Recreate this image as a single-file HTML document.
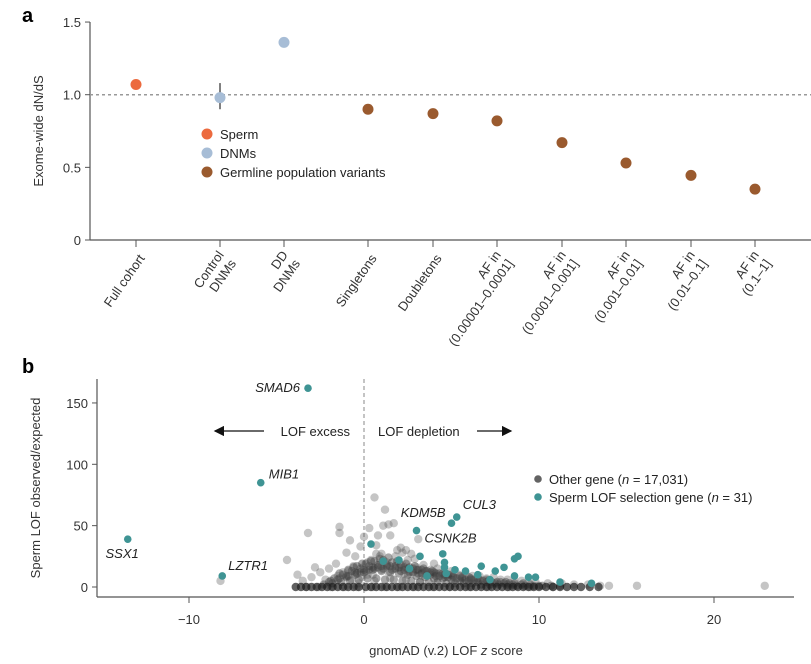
<!DOCTYPE html>
<html><head><meta charset="utf-8"><style>
body{margin:0;background:#fff;}
svg{display:block;font-family:"Liberation Sans",sans-serif;}
</style></head><body>
<svg id="chart" width="811" height="664" viewBox="0 0 811 664">
<text x="22" y="22" font-size="20" font-weight="bold">a</text>
<text x="22" y="373" font-size="20" font-weight="bold">b</text>
<g id="pa"></g>
<g id="pb"></g>
</svg>
<script>
const NS="http://www.w3.org/2000/svg";
function mk(p,t,a){const e=document.createElementNS(NS,t);for(const k in a)e.setAttribute(k,a[k]);p.appendChild(e);return e;}

// Panel a data
const aCats=["Full cohort","Control|DNMs","DD|DNMs","Singletons","Doubletons","AF in|(0.00001–0.0001]","AF in|(0.0001–0.001]","AF in|(0.001–0.01]","AF in|(0.01–0.1]","AF in|(0.1–1]"];
const aVals=[1.07,0.98,1.36,0.90,0.87,0.82,0.67,0.53,0.445,0.35];
const aGroup=["sperm","dnm","dnm","germ","germ","germ","germ","germ","germ","germ"];
const aTicks=[0,0.5,1.0,1.5];
const aTickLabels=["0","0.5","1.0","1.5"];
const aErrLo=[null,0.90,null,null,null,null,null,null,null,null];
const aErrHi=[null,1.08,null,null,null,null,null,null,null,null];
const aCatX=[136,220,284,368,433,497,562,626,691,755];

// Panel b data
const bXTicks=[-10,0,10,20];
const bYTicks=[0,50,100,150];
const selX=[-3.2,-5.9,-13.5,-8.1,5.0,5.3,3.0,0.4,2.0,3.2,4.5,4.6,4.6,5.2,5.8,6.7,6.5,7.5,8.0,8.6,8.8,8.6,9.4,9.8,13.0,1.1,2.6,3.6,4.7,7.2,11.2];
const selY=[162,85,39,9,52,57,46,35,22,25,27,20,16,14,13,17,10,13,16,23,25,9,8,8,3,21,15,9,11,6,4];
const genes=["SMAD6","MIB1","SSX1","LZTR1","KDM5B","CUL3","CSNK2B"];
const geneX=[-3.2,-5.9,-13.5,-8.1,5.0,5.3,3.0];
const geneY=[162,85,39,9,52,57,46];
const otherX=[0.6,1.2,1.1,1.7,-1.4,-1.4,-3.2,0.8,1.4,0.0,3.1,2.4,-4.4,-3.8,-0.8,-0.2,0.3,0.7,1.5,2.1,2.7,-1.0,-2.0,-2.5,-3.0,-3.5,-2.8,-8.2,-1.6,-0.5,0.2,1.0,1.8,2.5,3.4,4.2,5.0,5.8,6.6,7.4,8.2,9.0,9.8,10.5,11.3,12.0,-1.2,-0.6,0.4,1.3,2.2,3.0,3.8,4.6,5.4,6.2,7.0,7.8,8.6,9.4,-2.2,-1.5,-0.9,0.0,0.9,1.7,2.6,3.5,4.4,5.3,6.1,7.0,-1.8,-0.7,0.5,1.4,2.3,3.3,4.2,5.1,-0.3,0.6,1.5,2.4,3.2,-3.3,-2.6,-1.9,-1.1,-0.4,0.5,1.2,2.0,2.9,3.9,4.9,6.0,7.1,8.3,9.5,10.8,0.2,1.0,0.7,2.9,4.0,-0.1,1.9,3.6,0.9,2.2,12.8,13.5,14.0,15.6,22.9];
const otherY=[73,63,50,52,49,44,44,42,51,41,39,30,22,10,38,33,48,34,42,32,27,28,15,12,8,5,16,5,19,25,20,27,25,22,18,15,13,11,9,8,6,5,4,3,3,2,12,17,22,20,18,16,14,12,10,9,7,6,5,4,6,9,13,16,18,15,13,11,9,7,6,4,3,6,10,12,11,9,7,5,3,5,7,6,4,0,0,0,0,0,0,0,0,0,0,0,0,0,0,0,0,10,14,27,23,19,8,30,12,25,28,2,1,1,1,1];
const baseX=[-3.9,-3.6,-3.3,-3.0,-2.7,-2.4,-2.1,-1.8,-1.5,-1.2,-0.9,-0.6,-0.3,0.1,0.4,0.7,1.0,1.3,1.6,1.9,2.2,2.5,2.8,3.1,3.4,3.7,4.0,4.3,4.6,4.9,5.2,5.5,5.8,6.1,6.4,6.7,7.0,7.3,7.6,7.9,8.2,8.5,8.8,9.1,9.4,9.7,10.0,10.4,10.8,11.2,11.6,12.0,12.4,12.9,13.4];
const cloudX=[-2.0,-1.5,-1.0,-0.5,0.0,0.5,1.0,1.5,2.0,2.5,3.0,3.5,4.0,4.5,5.0,5.5,6.0,6.5,7.0,7.5,8.0,8.5,9.0,9.5,10.0,-1.7,-1.2,-0.7,-0.2,0.3,0.8,1.3,1.8,2.3,2.8,3.3,3.8,4.3,4.8,5.3,5.8,6.3,6.8,7.3,7.8,8.3,-1.4,-0.9,-0.4,0.1,0.6,1.1,1.6,2.1,2.6,3.1,3.6,4.1,4.6,5.1,5.6,6.1,-0.6,-0.1,0.4,0.9,1.4,1.9,2.4,2.9,3.4,3.9,
 -2.3,-1.8,-1.3,-0.8,-0.3,0.2,0.7,1.2,1.7,2.2,2.7,3.2,3.7,4.2,4.7,5.2,5.7,6.2,6.7,7.2,7.7,8.2,8.7,9.2,9.7,10.2,10.7,11.2,
 -1.9,-1.4,-0.9,-0.4,0.1,0.6,1.1,1.6,2.1,2.6,3.1,3.6,4.1,4.6,5.1,5.6,6.1,6.6,7.1,7.6,8.1,8.6,9.1,
 -1.0,-0.5,0.0,0.5,1.0,1.5,2.0,2.5,3.0,3.5,4.0,4.5,5.0,5.5,6.0,6.5,7.0,
 -0.2,0.3,0.8,1.3,1.8,2.3,2.8,3.3,3.8,4.3,4.8];
const cloudY=[4,6,8,10,12,14,13,12,11,10,9,8,7,7,6,5,5,4,4,3,3,2,2,2,1,7,10,13,15,17,18,17,15,14,12,11,10,9,8,7,6,6,5,4,4,3,11,14,17,19,21,22,20,18,16,14,13,11,10,9,8,7,16,19,21,23,24,21,19,17,15,13,
 2,3,4,5,6,7,7,6,6,5,5,4,4,4,3,3,3,3,2,2,2,2,1,1,1,1,1,1,
 5,7,9,11,13,15,15,14,13,12,11,10,9,8,8,7,6,6,5,4,4,3,3,
 9,12,14,16,17,17,16,15,14,13,12,11,10,9,8,7,6,
 12,14,16,18,17,16,15,14,12,11,10];

const pa=document.getElementById('pa');
function ay(v){return 240-v*145.3;}
let l=mk(pa,'line',{x1:90,y1:22,x2:90,y2:240,stroke:'#555','stroke-width':1.2});


l=mk(pa,'line',{x1:90,y1:240,x2:811,y2:240,stroke:'#555','stroke-width':1.2});


aTicks.forEach((t,i)=>{
  mk(pa,'line',{x1:85,y1:ay(t),x2:90,y2:ay(t),stroke:'#555'});
  const tx=mk(pa,'text',{x:81,y:ay(t)+5,'text-anchor':'end','font-size':13,fill:'#333'});
  tx.textContent=aTickLabels[i];
  
  
});
let rl=mk(pa,'line',{x1:90,y1:ay(1),x2:811,y2:ay(1),stroke:'#999','stroke-width':1.5,'stroke-dasharray':'3,3'});


let yt=mk(pa,'text',{x:0,y:0,'text-anchor':'middle','font-size':13,fill:'#333',transform:'translate(43,131) rotate(-90)'});
yt.textContent='Exome-wide dN/dS';


const col={sperm:'#ec6a3e',dnm:'#a7bdd6',germ:'#9a5a2e'};
aCats.forEach((c,i)=>{
  const x=aCatX[i];
  mk(pa,'line',{x1:x,y1:240,x2:x,y2:247,stroke:'#555'});
  const lines=c.split('|');
  const g=mk(pa,'text',{'text-anchor':'end','font-size':13,fill:'#333',transform:`translate(${x+6},${256}) rotate(-55)`});
  
  
  lines.forEach((ln,j)=>{const ts=mk(g,'tspan',{x:0,dy:j==0?(lines.length>1?-2:4):15});ts.textContent=ln;});
  if(aErrLo[i]!=null){mk(pa,'line',{x1:x,y1:ay(aErrLo[i]),x2:x,y2:ay(aErrHi[i]),stroke:'#555','stroke-width':1.5});}
  const d=mk(pa,'circle',{cx:x,cy:ay(aVals[i]),r:5.5,fill:col[aGroup[i]]});
  
  
});
const legA=[['Sperm','sperm'],['DNMs','dnm'],['Germline population variants','germ']];
legA.forEach((e,i)=>{
  const y=134+i*19;
  const g=mk(pa,'g',{});
  
  
  mk(g,'circle',{cx:207,cy:y,r:5.5,fill:col[e[1]]});
  const t=mk(g,'text',{x:220,y:y+5,'font-size':13,fill:'#222'});t.textContent=e[0];
});

// Panel b
const pb=document.getElementById('pb');
function bx(v){return 364+v*17.5;}
function by(v){return 587-v*1.227;}
l=mk(pb,'line',{x1:97,y1:379,x2:97,y2:597,stroke:'#555','stroke-width':1.2});


l=mk(pb,'line',{x1:97,y1:597,x2:794,y2:597,stroke:'#555','stroke-width':1.2});


bYTicks.forEach(t=>{
  mk(pb,'line',{x1:92,y1:by(t),x2:97,y2:by(t),stroke:'#555'});
  const tx=mk(pb,'text',{x:88,y:by(t)+5,'text-anchor':'end','font-size':13,fill:'#333'});tx.textContent=t;
  
  
});
bXTicks.forEach(t=>{
  mk(pb,'line',{x1:bx(t),y1:597,x2:bx(t),y2:603,stroke:'#555'});
  const tx=mk(pb,'text',{x:bx(t),y:624,'text-anchor':'middle','font-size':13,fill:'#333'});tx.textContent=t<0?'−'+(-t):t;
  
  
});
let xt=mk(pb,'text',{x:446,y:655,'text-anchor':'middle','font-size':13,fill:'#333'});
xt.innerHTML='gnomAD (v.2) LOF <tspan font-style="italic">z</tspan> score';


yt=mk(pb,'text',{'text-anchor':'middle','font-size':13,fill:'#333',transform:'translate(40,488) rotate(-90)'});
yt.textContent='Sperm LOF observed/expected';


let vl=mk(pb,'line',{x1:bx(0),y1:379,x2:bx(0),y2:597,stroke:'#888','stroke-dasharray':'4,3'});


const ad=mk(pb,'defs',{});
const mkr=mk(ad,'marker',{id:'ah',markerWidth:8,markerHeight:8,refX:7,refY:4,orient:'auto'});
mk(mkr,'path',{d:'M0,0 L8,4 L0,8 z',fill:'#111'});
let a1=mk(pb,'line',{x1:264,y1:431,x2:215,y2:431,stroke:'#111','stroke-width':1.3,'marker-end':'url(#ah)'});


let t1=mk(pb,'text',{x:350,y:436,'text-anchor':'end','font-size':13,fill:'#222'});t1.textContent='LOF excess';


let t2=mk(pb,'text',{x:378,y:436,'font-size':13,fill:'#222'});t2.textContent='LOF depletion';


let a2=mk(pb,'line',{x1:477,y1:431,x2:511,y2:431,stroke:'#111','stroke-width':1.3,'marker-end':'url(#ah)'});


const gfill='rgba(90,90,90,0.35)';
cloudX.forEach((x,i)=>{const c=mk(pb,'circle',{cx:bx(x),cy:by(cloudY[i]),r:4.2,fill:'rgba(60,60,60,0.45)'});
  
  });
otherX.forEach((x,i)=>{const c=mk(pb,'circle',{cx:bx(x),cy:by(otherY[i]),r:4.2,fill:gfill});
  
  });
baseX.forEach(x=>{const c=mk(pb,'circle',{cx:bx(x),cy:by(0),r:4.2,fill:'rgba(30,30,30,0.7)'});
  
  });
selX.forEach((x,i)=>{const c=mk(pb,'circle',{cx:bx(x),cy:by(selY[i]),r:3.8,fill:'#3f9494'});
  
  });
const gdx=[-8,8,11,6,-6,6,8], gdy=[4,-4,19,-6,-6,-8,12], ganc=['end','start','end','start','end','start','start'];
genes.forEach((g,i)=>{const t=mk(pb,'text',{x:bx(geneX[i])+gdx[i],y:by(geneY[i])+gdy[i],'text-anchor':ganc[i],'font-size':13,'font-style':'italic',fill:'#222'});t.textContent=g;
  
  });
const legB=[['rgba(60,60,60,0.8)','Other gene (','17,031)'],['#3f9494','Sperm LOF selection gene (','31)']];
legB.forEach((e,i)=>{const y=479+i*18;const g=mk(pb,'g',{});
  
  
  mk(g,'circle',{cx:538,cy:y,r:3.8,fill:e[0]});
  const t=mk(g,'text',{x:549,y:y+5,'font-size':13,fill:'#222'});
  t.innerHTML=e[1]+'<tspan font-style="italic">n</tspan> = '+e[2];});
</script>
</body></html>
